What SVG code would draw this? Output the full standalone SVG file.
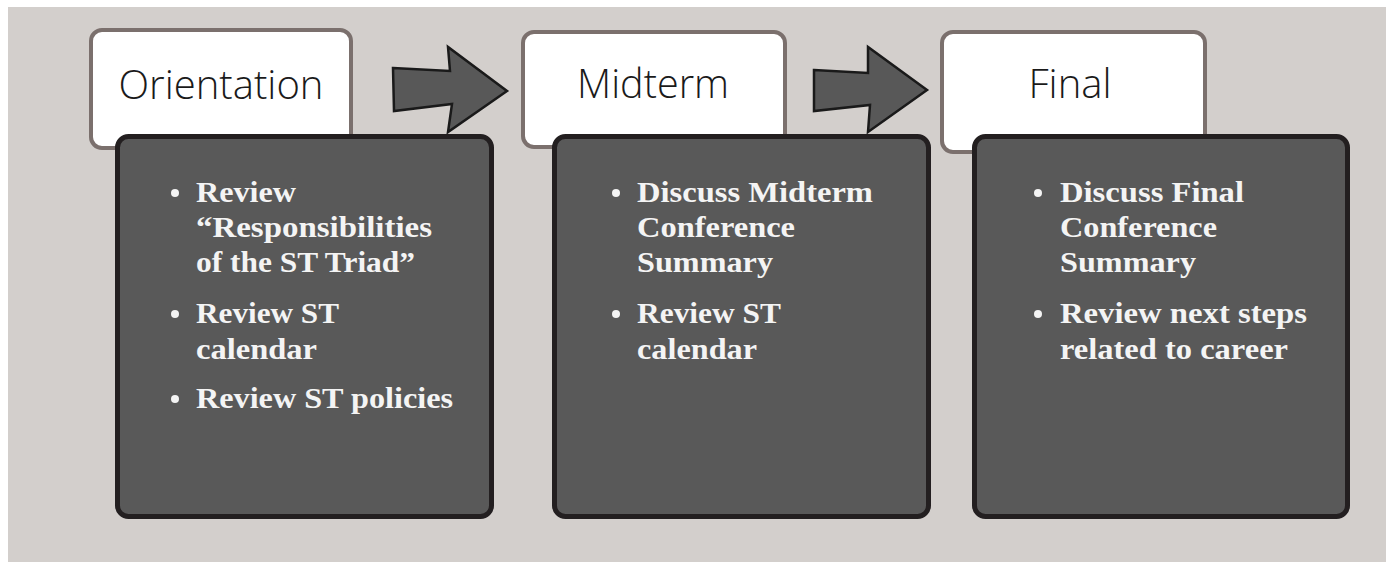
<svg xmlns="http://www.w3.org/2000/svg" width="1386" height="562" viewBox="0 0 1386 562">
<style>
.head{fill:#fff;stroke:#7b706d;stroke-width:4}
.body{fill:#595959;stroke:#231f20;stroke-width:5}
.htxt{font-family:"Open Sans","Liberation Sans",sans-serif;font-weight:300;font-size:41px;fill:#1a1a1a;text-anchor:middle}
.btxt{font-family:"Liberation Serif",serif;font-weight:bold;font-size:29px;fill:#f4f4f4}
.dot{fill:#f4f4f4}
.arrow{fill:#585858;stroke:#1a1a1a;stroke-width:2.5;stroke-linejoin:miter}
</style>
<rect x="0" y="0" width="1386" height="562" fill="#ffffff"/>
<rect x="8" y="7" width="1378" height="555" fill="#d3cfcc"/>
<g id="connectors">
<polygon class="arrow" points="393,68 450,71 448,47 507,91 448,132 452,104 394,111"/>
<polygon class="arrow" points="814,70 868,73 868,47 927,90 868,132 870,105 814,111"/>
</g>
<g id="orientation">
<rect class="head" x="91" y="30" width="260" height="118" rx="11"/>
<text class="htxt" x="221" y="99" textLength="205" lengthAdjust="spacingAndGlyphs">Orientation</text>
<rect class="body" x="117.5" y="136.5" width="374" height="380" rx="11"/>
<circle class="dot" cx="175" cy="193" r="4"/>
<text class="btxt" x="196" y="202" textLength="100" lengthAdjust="spacingAndGlyphs">Review</text>
<text class="btxt" x="196" y="237" textLength="236" lengthAdjust="spacingAndGlyphs">“Responsibilities</text>
<text class="btxt" x="196" y="272" textLength="219" lengthAdjust="spacingAndGlyphs">of the ST Triad”</text>
<circle class="dot" cx="175" cy="314" r="4"/>
<text class="btxt" x="196" y="323" textLength="143" lengthAdjust="spacingAndGlyphs">Review ST</text>
<text class="btxt" x="196" y="359" textLength="121" lengthAdjust="spacingAndGlyphs">calendar</text>
<circle class="dot" cx="175" cy="399" r="4"/>
<text class="btxt" x="196" y="408" textLength="257" lengthAdjust="spacingAndGlyphs">Review ST policies</text>
</g>
<g id="midterm">
<rect class="head" x="523" y="32" width="262" height="115" rx="11"/>
<text class="htxt" x="653" y="98" textLength="152" lengthAdjust="spacingAndGlyphs">Midterm</text>
<rect class="body" x="554.5" y="136.5" width="374" height="380" rx="11"/>
<circle class="dot" cx="616" cy="193" r="4"/>
<text class="btxt" x="637" y="202" textLength="236" lengthAdjust="spacingAndGlyphs">Discuss Midterm</text>
<text class="btxt" x="637" y="237" textLength="158" lengthAdjust="spacingAndGlyphs">Conference</text>
<text class="btxt" x="637" y="272" textLength="136" lengthAdjust="spacingAndGlyphs">Summary</text>
<circle class="dot" cx="616" cy="314" r="4"/>
<text class="btxt" x="637" y="323" textLength="144" lengthAdjust="spacingAndGlyphs">Review ST</text>
<text class="btxt" x="637" y="359" textLength="120" lengthAdjust="spacingAndGlyphs">calendar</text>
</g>
<g id="final">
<rect class="head" x="942" y="32" width="263" height="120" rx="11"/>
<text class="htxt" x="1070" y="98" textLength="83" lengthAdjust="spacingAndGlyphs">Final</text>
<rect class="body" x="974.5" y="136.5" width="373" height="380" rx="11"/>
<circle class="dot" cx="1038" cy="193" r="4"/>
<text class="btxt" x="1060" y="202" textLength="184" lengthAdjust="spacingAndGlyphs">Discuss Final</text>
<text class="btxt" x="1060" y="237" textLength="157" lengthAdjust="spacingAndGlyphs">Conference</text>
<text class="btxt" x="1060" y="272" textLength="136" lengthAdjust="spacingAndGlyphs">Summary</text>
<circle class="dot" cx="1038" cy="314" r="4"/>
<text class="btxt" x="1060" y="323" textLength="247" lengthAdjust="spacingAndGlyphs">Review next steps</text>
<text class="btxt" x="1060" y="359" textLength="228" lengthAdjust="spacingAndGlyphs">related to career</text>
</g>
</svg>
